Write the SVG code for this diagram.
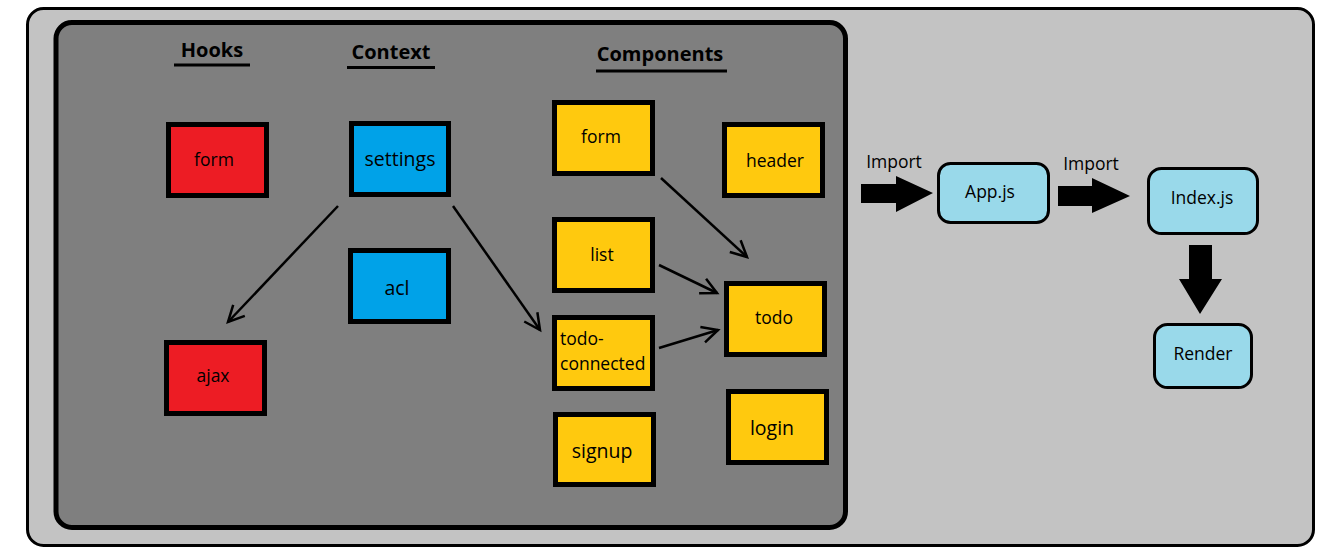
<svg xmlns="http://www.w3.org/2000/svg" width="1336" height="553" viewBox="0 0 1336 553">
<defs>
<style>
text{font-family:"Open Sans","Noto Sans",sans-serif;fill:#000;}
.h{font-size:20px;font-weight:bold;text-anchor:middle;}
.ul{stroke:#000;stroke-width:3;}
.box{stroke:#000;stroke-width:5;}
.red{fill:#ed1c24;}
.blue{fill:#00a2e8;}
.yel{fill:#ffc90e;}
.rbox{fill:#99d9ea;stroke:#000;stroke-width:3;}
.t{font-size:17.5px;text-anchor:middle;}
.ts{font-size:17.5px;text-anchor:start;}
.tl{font-size:19.5px;text-anchor:middle;}
.c{stroke:#000;stroke-width:2.5;fill:none;}
.blk{fill:#000;}
</style>
<marker id="ah" markerUnits="userSpaceOnUse" markerWidth="30" markerHeight="30" viewBox="-20 -15 30 30" refX="0" refY="0" orient="auto">
<polyline points="-16,-8 0,0 -16,8" fill="none" stroke="#000" stroke-width="2.5"/>
</marker>
</defs>
<rect x="27.5" y="8.5" width="1286" height="537" rx="16" fill="#c3c3c3" stroke="#000" stroke-width="3"/>
<rect x="56" y="22.5" width="789.5" height="505" rx="16" fill="#7f7f7f" stroke="#000" stroke-width="5"/>

<g id="hdr-hooks"><text class="h" x="212" y="57">Hooks</text><line class="ul" x1="174" y1="65" x2="250" y2="65"/></g>
<g id="hdr-context"><text class="h" x="391" y="59">Context</text><line class="ul" x1="347" y1="67.5" x2="435" y2="67.5"/></g>
<g id="hdr-components"><text class="h" x="660" y="61">Components</text><line class="ul" x1="596" y1="71" x2="727" y2="71"/></g>

<g id="hook-form"><rect class="box red" x="168.5" y="124.5" width="98" height="71"/><text class="t" x="214" y="166">form</text></g>
<g id="hook-ajax"><rect class="box red" x="166.5" y="342.5" width="98" height="71"/><text class="t" x="213" y="382">ajax</text></g>
<g id="ctx-settings"><rect class="box blue" x="351.5" y="123.5" width="97" height="71"/><text class="tl" x="400" y="166">settings</text></g>
<g id="ctx-acl"><rect class="box blue" x="350.5" y="250.5" width="98" height="71"/><text class="tl" x="397" y="295">acl</text></g>

<g id="comp-form"><rect class="box yel" x="554.5" y="102.5" width="98" height="71"/><text class="t" x="601" y="143">form</text></g>
<g id="comp-header"><rect class="box yel" x="724.5" y="124.5" width="98" height="71"/><text class="t" x="775" y="167">header</text></g>
<g id="comp-list"><rect class="box yel" x="554.5" y="219.5" width="98" height="71"/><text class="t" x="602" y="261">list</text></g>
<g id="comp-todo-connected"><rect class="box yel" x="554.5" y="317.5" width="98" height="71"/><text class="ts" x="560" y="345">todo-</text><text class="ts" x="560" y="370">connected</text></g>
<g id="comp-signup"><rect class="box yel" x="555.5" y="414.5" width="98" height="70"/><text class="tl" x="602" y="458">signup</text></g>
<g id="comp-todo"><rect class="box yel" x="726.5" y="283.5" width="98" height="71"/><text class="t" x="774" y="324">todo</text></g>
<g id="comp-login"><rect class="box yel" x="728.5" y="391.5" width="98" height="71"/><text class="tl" x="772" y="435">login</text></g>

<g id="app"><rect class="rbox" x="938.5" y="163.5" width="110" height="59" rx="12"/><text class="t" x="990" y="198">App.js</text></g>
<g id="index"><rect class="rbox" x="1148.5" y="168.5" width="109" height="65" rx="13"/><text class="t" x="1202" y="204">Index.js</text></g>
<g id="render"><rect class="rbox" x="1154.5" y="324.5" width="97" height="63" rx="13"/><text class="t" x="1203" y="360">Render</text></g>

<g id="connectors">
<line class="c" x1="338" y1="206" x2="228" y2="322" marker-end="url(#ah)"/>
<line class="c" x1="453" y1="206" x2="540" y2="330" marker-end="url(#ah)"/>
<line class="c" x1="661" y1="178" x2="747" y2="257" marker-end="url(#ah)"/>
<line class="c" x1="659" y1="265" x2="717" y2="293" marker-end="url(#ah)"/>
<line class="c" x1="659" y1="348" x2="718" y2="330" marker-end="url(#ah)"/>
<polygon class="blk" points="861,184 896,184 896,176 933,193 896,212 896,203 861,203"/>
<polygon class="blk" points="1058,186 1092,186 1092,178 1130,196 1092,213 1092,206 1058,206"/>
<polygon class="blk" points="1189,245 1212,245 1212,279 1222,279 1200,314 1179,279 1189,279"/>
<text class="t" x="894" y="168">Import</text>
<text class="t" x="1091" y="170">Import</text>
</g>
</svg>
